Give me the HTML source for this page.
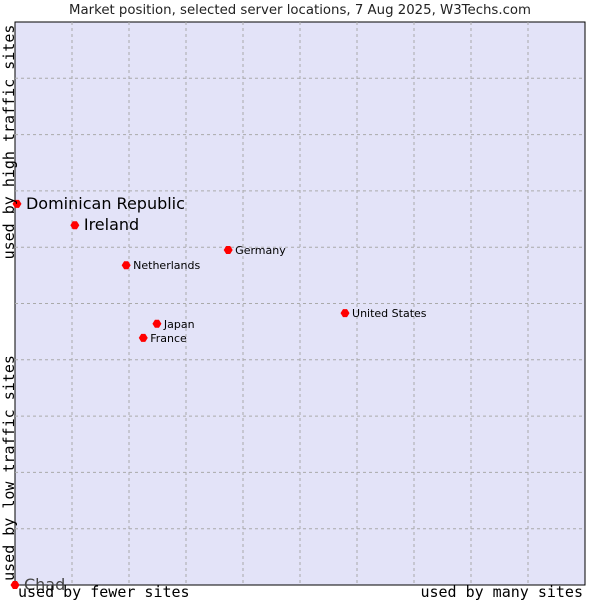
<!DOCTYPE html>
<html><head><meta charset="utf-8"><style>
body{margin:0;background:#fff;}
svg{display:block;}
</style></head><body>
<svg id="chart" width="600" height="600" xmlns="http://www.w3.org/2000/svg">
<text x="300" y="14" text-anchor="middle" font-family="DejaVu Sans, sans-serif" font-size="13.3" fill="#222">Market position, selected server locations, 7 Aug 2025, W3Techs.com</text>
<rect x="15" y="22" width="570" height="563" fill="#e3e3f8" stroke="#000" stroke-width="1"/>
<g id="grid"></g>
<g id="points"></g>
<text transform="translate(14,142) rotate(-90)" text-anchor="middle" font-family="DejaVu Sans Mono, monospace" font-size="15" fill="#000">used by high traffic sites</text>
<text transform="translate(14,468) rotate(-90)" text-anchor="middle" font-family="DejaVu Sans Mono, monospace" font-size="15" fill="#000">used by low traffic sites</text>
<text x="18" y="597" font-family="DejaVu Sans Mono, monospace" font-size="15" fill="#000">used by fewer sites</text>
<text x="583" y="597" text-anchor="end" font-family="DejaVu Sans Mono, monospace" font-size="15" fill="#000">used by many sites</text>
</svg>
<script>
const countries = ["Dominican Republic","Ireland","Netherlands","Germany","United States","Japan","France","Chad"];
const xValues = [0.35,10.5,19.5,37.4,57.9,24.9,22.5,0];
const yValues = [67.7,63.9,56.8,59.5,48.3,46.4,43.9,0];
const bigLabel = [true,true,false,false,false,false,false,true];
const ns="http://www.w3.org/2000/svg";
const X0=15,X1=585,Y0=585,Y1=22;
function sx(v){return X0+(X1-X0)*v/100;}
function sy(v){return Y0-(Y0-Y1)*v/100;}
const grid=document.getElementById('grid');
for(let i=1;i<10;i++){
  const lx=document.createElementNS(ns,'line');
  
  
  lx.setAttribute('x1',sx(i*10));lx.setAttribute('x2',sx(i*10));
  lx.setAttribute('y1',Y1);lx.setAttribute('y2',Y0);
  lx.setAttribute('stroke','#aaa');lx.setAttribute('stroke-dasharray','3,3');
  grid.appendChild(lx);
  const ly=document.createElementNS(ns,'line');
  
  
  ly.setAttribute('y1',sy(i*10));ly.setAttribute('y2',sy(i*10));
  ly.setAttribute('x1',X0);ly.setAttribute('x2',X1);
  ly.setAttribute('stroke','#aaa');ly.setAttribute('stroke-dasharray','3,3');
  grid.appendChild(ly);
}
const pts=document.getElementById('points');
countries.forEach((c,i)=>{
  const x=sx(xValues[i]),y=sy(yValues[i]);
  const p=document.createElementNS(ns,'polygon');
  
  
  p.setAttribute('points',`${x-4.5},${y} ${x-2},${y-4} ${x+2},${y-4} ${x+4.5},${y} ${x+2},${y+4} ${x-2},${y+4}`);
  p.setAttribute('fill','#f00');
  pts.appendChild(p);
  const t=document.createElementNS(ns,'text');
  
  
  const big=bigLabel[i];
  t.setAttribute('x',x+(big?9:7));t.setAttribute('y',y+(big?5:4));
  t.setAttribute('font-family','DejaVu Sans, sans-serif');
  t.setAttribute('font-size',big?16:11);
  t.setAttribute('fill',i===7?'#444':'#000');
  t.textContent=c;
  pts.appendChild(t);
});
</script>
</body></html>
